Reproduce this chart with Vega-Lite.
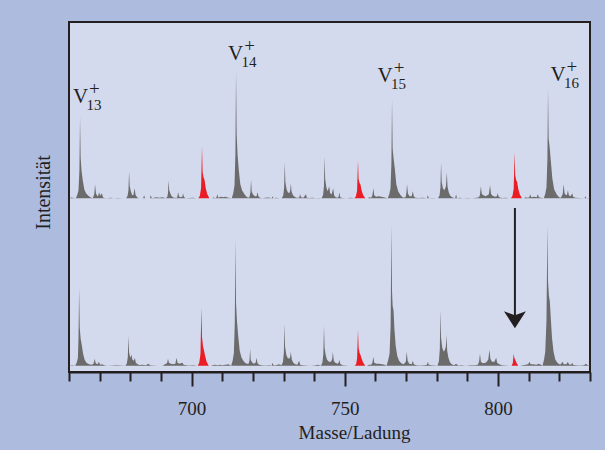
{
"$schema": "https://vega.github.io/schema/vega-lite/v6.json",
"width": 521, "height": 350,
"autosize": {"type": "none"},
"padding": {"left": 69, "top": 22, "right": 15, "bottom": 78},
"background": "#adbbdf",
"config": {"view": {"fill": "#d4daee", "stroke": "#231f20", "strokeWidth": 2}, "font": "Liberation Serif"},
"datasets": {
"ug": [{"m":660,"i":0},{"m":660.8,"i":0.8},{"m":661.5,"i":0.3},{"m":662.2,"i":0},{"m":662.7,"i":3.2},{"m":663.1,"i":8.1},{"m":663.4,"i":28.4},{"m":663.6,"i":81},{"m":663.8,"i":40.5},{"m":664.1,"i":27.5},{"m":664.5,"i":17.8},{"m":665.0,"i":8.9},{"m":665.6,"i":4.9},{"m":666.4,"i":2.4},{"m":667.2,"i":0.5},{"m":667.8,"i":0.3},{"m":668.25,"i":4.2},{"m":668.5,"i":14},{"m":668.8,"i":4.9},{"m":669.3,"i":2},{"m":669.5,"i":2},{"m":669.8,"i":6},{"m":670.2,"i":2.5},{"m":670.7,"i":5},{"m":671.1,"i":1},{"m":671.5,"i":0.3},{"m":672.5,"i":0},{"m":673.5,"i":0.5},{"m":674.5,"i":0},{"m":676,"i":0.4},{"m":677.5,"i":0},{"m":678.6,"i":0},{"m":679.1,"i":2.2},{"m":679.4,"i":8.1},{"m":679.6,"i":27},{"m":679.8,"i":12.2},{"m":680.2,"i":6.8},{"m":680.6,"i":3.2},{"m":681.0,"i":3},{"m":681.4,"i":10},{"m":681.7,"i":3.5},{"m":682.2,"i":1},{"m":682.8,"i":0},{"m":684.2,"i":0},{"m":684.5,"i":3},{"m":684.8,"i":0},{"m":686.4,"i":0},{"m":686.7,"i":3},{"m":687.0,"i":0},{"m":688.5,"i":1},{"m":689.5,"i":0.5},{"m":690.5,"i":1},{"m":691.6,"i":0},{"m":692.1,"i":1.5},{"m":692.3,"i":5.4},{"m":692.5,"i":18},{"m":692.7,"i":8.1},{"m":693.1,"i":4.5},{"m":693.5,"i":2},{"m":694.2,"i":0.5},{"m":695.3,"i":0.5},{"m":695.6,"i":6},{"m":695.9,"i":2},{"m":696.3,"i":1},{"m":697.0,"i":1.5},{"m":697.2,"i":5},{"m":697.5,"i":1.5},{"m":698,"i":0},{"m":699,"i":0.3},{"m":700.5,"i":0.5},{"m":701.5,"i":0},{"m":706.8,"i":0},{"m":707.2,"i":1},{"m":707.6,"i":0},{"m":708.1,"i":0.5},{"m":708.4,"i":4},{"m":708.7,"i":0.5},{"m":709.5,"i":1.5},{"m":710.3,"i":1},{"m":711,"i":1.5},{"m":712,"i":0.5},{"m":713.1,"i":0},{"m":713.6,"i":5.1},{"m":714.0,"i":12.8},{"m":714.3,"i":44.8},{"m":714.5,"i":128},{"m":714.7,"i":64},{"m":715.0,"i":43.5},{"m":715.4,"i":28.2},{"m":715.9,"i":14.1},{"m":716.5,"i":7.7},{"m":717.3,"i":3.8},{"m":718.1,"i":1},{"m":718.8,"i":0.5},{"m":719.2,"i":5.7},{"m":719.4,"i":19},{"m":719.6,"i":7},{"m":720.0,"i":4},{"m":720.6,"i":2},{"m":721.2,"i":2},{"m":721.5,"i":6},{"m":721.8,"i":2},{"m":722.3,"i":0.5},{"m":723.0,"i":0},{"m":724,"i":0.5},{"m":725,"i":0.8},{"m":726.1,"i":0},{"m":726.4,"i":2},{"m":726.7,"i":0},{"m":727.5,"i":0.5},{"m":728.8,"i":0},{"m":729.4,"i":0},{"m":729.9,"i":2.9},{"m":730.2,"i":10.8},{"m":730.4,"i":36},{"m":730.6,"i":16.2},{"m":731.0,"i":9},{"m":731.4,"i":6},{"m":731.9,"i":5},{"m":732.2,"i":8},{"m":732.4,"i":15},{"m":732.6,"i":7},{"m":733.0,"i":3.5},{"m":733.6,"i":1.5},{"m":734.2,"i":0.5},{"m":735.1,"i":0.5},{"m":735.4,"i":4},{"m":735.7,"i":1},{"m":736.5,"i":0.5},{"m":737.3,"i":4},{"m":737.6,"i":0.5},{"m":738.5,"i":0.3},{"m":739.5,"i":0.5},{"m":740.5,"i":0},{"m":741.5,"i":0.3},{"m":742.4,"i":0},{"m":742.9,"i":3.4},{"m":743.2,"i":12.6},{"m":743.4,"i":42},{"m":743.6,"i":18.9},{"m":744.0,"i":10.5},{"m":744.4,"i":7},{"m":744.9,"i":12},{"m":745.2,"i":5},{"m":745.7,"i":4},{"m":746.2,"i":10},{"m":746.5,"i":3},{"m":747.0,"i":1},{"m":747.6,"i":0.5},{"m":748.0,"i":1.5},{"m":748.2,"i":6},{"m":748.5,"i":1},{"m":749.2,"i":0.3},{"m":750.5,"i":0},{"m":752,"i":0.5},{"m":753.0,"i":0},{"m":757.5,"i":0},{"m":758,"i":1},{"m":758.6,"i":0.5},{"m":759.0,"i":3},{"m":759.3,"i":10},{"m":759.6,"i":3},{"m":760.2,"i":1.5},{"m":761,"i":2},{"m":762,"i":1.5},{"m":763,"i":0.8},{"m":764.0,"i":0},{"m":764.5,"i":4},{"m":764.9,"i":9.9},{"m":765.2,"i":34.7},{"m":765.4,"i":99},{"m":765.6,"i":50},{"m":765.9,"i":40},{"m":766.3,"i":30},{"m":766.8,"i":14},{"m":767.4,"i":7},{"m":768.2,"i":3},{"m":769.0,"i":0.5},{"m":769.8,"i":1},{"m":770.05,"i":4.2},{"m":770.3,"i":14},{"m":770.6,"i":4.9},{"m":771.1,"i":2},{"m":771.8,"i":2},{"m":772.2,"i":7},{"m":772.5,"i":2},{"m":773.0,"i":0.5},{"m":774,"i":0.3},{"m":775.5,"i":0.5},{"m":776.8,"i":0},{"m":777.1,"i":3},{"m":777.4,"i":0},{"m":778.5,"i":0.3},{"m":779.8,"i":0},{"m":780.4,"i":0},{"m":780.9,"i":2.9},{"m":781.2,"i":10.8},{"m":781.4,"i":36},{"m":781.6,"i":16.2},{"m":782.0,"i":10},{"m":782.5,"i":8},{"m":783.0,"i":12},{"m":783.3,"i":26},{"m":783.5,"i":12},{"m":783.9,"i":6},{"m":784.4,"i":2.5},{"m":785.0,"i":1},{"m":785.7,"i":0.3},{"m":786.0,"i":0},{"m":786.3,"i":4},{"m":786.6,"i":0},{"m":787.5,"i":0.5},{"m":788.5,"i":0},{"m":790,"i":0.3},{"m":791.5,"i":0},{"m":793,"i":0.5},{"m":793.8,"i":1},{"m":794.1,"i":3.6},{"m":794.4,"i":12},{"m":794.7,"i":4.2},{"m":795.2,"i":3},{"m":796.0,"i":2},{"m":797.0,"i":4},{"m":797.4,"i":13},{"m":797.7,"i":4.5},{"m":798.2,"i":2.5},{"m":799.0,"i":1.5},{"m":799.6,"i":2},{"m":799.9,"i":5},{"m":800.2,"i":1.5},{"m":800.8,"i":0.5},{"m":801.5,"i":0.3},{"m":802.5,"i":0.5},{"m":803.5,"i":0},{"m":808.5,"i":0},{"m":809,"i":1},{"m":809.7,"i":0.5},{"m":810.2,"i":1},{"m":810.5,"i":4},{"m":810.8,"i":1},{"m":811.8,"i":1.5},{"m":812.6,"i":1},{"m":813,"i":4},{"m":813.3,"i":1},{"m":814,"i":0.5},{"m":814.9,"i":0},{"m":815.4,"i":4.4},{"m":815.8,"i":11},{"m":816.1,"i":38.5},{"m":816.3,"i":110},{"m":816.5,"i":60},{"m":816.8,"i":52},{"m":817.2,"i":38},{"m":817.7,"i":20},{"m":818.3,"i":9},{"m":819.1,"i":4},{"m":819.9,"i":1},{"m":820.5,"i":0.5},{"m":821.1,"i":4.2},{"m":821.4,"i":14},{"m":821.7,"i":5},{"m":822.2,"i":3},{"m":822.5,"i":3.5},{"m":822.8,"i":8},{"m":823.1,"i":3},{"m":823.7,"i":2},{"m":824.2,"i":5},{"m":824.5,"i":1.5},{"m":825.2,"i":0.5},{"m":826.5,"i":0.3},{"m":828.2,"i":0},{"m":828.5,"i":2},{"m":828.8,"i":0},{"m":830,"i":0.5}],
"ur": [{"m":702.2,"i":0},{"m":702.7,"i":2.6},{"m":703.1,"i":10.4},{"m":703.4,"i":52},{"m":703.6,"i":26},{"m":703.9,"i":20.8},{"m":704.2,"i":18.7},{"m":704.6,"i":10.4},{"m":705.1,"i":4.2},{"m":705.8,"i":0},{"m":753.1,"i":0},{"m":753.6,"i":1.9},{"m":754.0,"i":7.6},{"m":754.3,"i":38},{"m":754.5,"i":19},{"m":754.8,"i":15.2},{"m":755.1,"i":13.7},{"m":755.5,"i":7.6},{"m":756.0,"i":3},{"m":756.7,"i":0},{"m":804.2,"i":0},{"m":804.7,"i":2.3},{"m":805.1,"i":9.2},{"m":805.4,"i":46},{"m":805.6,"i":23},{"m":805.9,"i":18.4},{"m":806.2,"i":16.6},{"m":806.6,"i":9.2},{"m":807.1,"i":3.7},{"m":807.8,"i":0}],
"lg": [{"m":660,"i":0},{"m":661,"i":0.5},{"m":662.0,"i":0},{"m":662.5,"i":3},{"m":662.9,"i":7.8},{"m":663.1,"i":27},{"m":663.3,"i":78},{"m":663.5,"i":38},{"m":663.8,"i":27},{"m":664.1,"i":22},{"m":664.6,"i":12},{"m":665.1,"i":6},{"m":665.7,"i":3},{"m":666.5,"i":1.5},{"m":667.5,"i":1},{"m":668.0,"i":2},{"m":668.4,"i":7},{"m":668.7,"i":2.5},{"m":669.3,"i":1.5},{"m":669.8,"i":4},{"m":670.1,"i":1},{"m":670.8,"i":1.5},{"m":671.5,"i":0.5},{"m":672.5,"i":0},{"m":674,"i":0.3},{"m":675.5,"i":0.5},{"m":677,"i":0.3},{"m":678.4,"i":0},{"m":678.9,"i":2.4},{"m":679.2,"i":9},{"m":679.4,"i":30},{"m":679.6,"i":13.5},{"m":680.0,"i":8},{"m":680.4,"i":11},{"m":680.7,"i":6},{"m":681.2,"i":5},{"m":681.5,"i":8},{"m":681.8,"i":3},{"m":682.4,"i":1.5},{"m":683.0,"i":0.8},{"m":684.0,"i":1},{"m":685,"i":0.5},{"m":686,"i":2},{"m":686.4,"i":0.5},{"m":687.5,"i":0.3},{"m":689,"i":0},{"m":690.5,"i":0},{"m":691.3,"i":1.5},{"m":692.0,"i":2.5},{"m":692.3,"i":7},{"m":692.6,"i":3},{"m":693.2,"i":2},{"m":694.0,"i":1.5},{"m":694.7,"i":2},{"m":695.1,"i":8},{"m":695.4,"i":3},{"m":696.0,"i":2},{"m":697.0,"i":3},{"m":697.4,"i":1},{"m":698.2,"i":0.5},{"m":699.2,"i":0.3},{"m":700.5,"i":0.5},{"m":701.8,"i":0},{"m":706.2,"i":0},{"m":706.8,"i":0.5},{"m":707.6,"i":1},{"m":708.4,"i":0.5},{"m":709.2,"i":1},{"m":710,"i":0.5},{"m":711,"i":1},{"m":712,"i":1.5},{"m":712.9,"i":0},{"m":713.4,"i":5},{"m":713.8,"i":12.6},{"m":714.1,"i":44},{"m":714.3,"i":126},{"m":714.5,"i":63},{"m":714.8,"i":45},{"m":715.2,"i":30},{"m":715.7,"i":15},{"m":716.3,"i":8},{"m":717.1,"i":4},{"m":717.9,"i":2},{"m":718.6,"i":2},{"m":718.9,"i":5},{"m":719.1,"i":17},{"m":719.3,"i":6},{"m":719.7,"i":3.5},{"m":720.3,"i":2},{"m":720.9,"i":3},{"m":721.2,"i":8},{"m":721.5,"i":2.5},{"m":722.1,"i":1},{"m":722.8,"i":0.5},{"m":724,"i":0.3},{"m":725.5,"i":0.5},{"m":726.1,"i":0},{"m":726.4,"i":3},{"m":726.7,"i":0.5},{"m":727.5,"i":0.5},{"m":728.5,"i":1.5},{"m":729.3,"i":0.5},{"m":729.8,"i":3.4},{"m":730.1,"i":12.6},{"m":730.3,"i":42},{"m":730.5,"i":19},{"m":730.9,"i":11},{"m":731.3,"i":8},{"m":731.9,"i":7},{"m":732.2,"i":9},{"m":732.4,"i":14},{"m":732.7,"i":6},{"m":733.2,"i":3},{"m":733.8,"i":1.5},{"m":734.5,"i":1},{"m":735.1,"i":5},{"m":735.4,"i":1},{"m":736.2,"i":0.5},{"m":737.5,"i":0.3},{"m":738.5,"i":0},{"m":740,"i":0.3},{"m":741.3,"i":1},{"m":742.2,"i":0},{"m":742.7,"i":3.2},{"m":743.0,"i":12},{"m":743.2,"i":40},{"m":743.4,"i":18},{"m":743.8,"i":10},{"m":744.2,"i":6},{"m":744.8,"i":4},{"m":745.5,"i":4},{"m":745.9,"i":7},{"m":746.1,"i":14},{"m":746.4,"i":5},{"m":746.9,"i":3},{"m":747.6,"i":2},{"m":748.0,"i":3},{"m":748.2,"i":6},{"m":748.5,"i":2},{"m":749.2,"i":0.5},{"m":750.2,"i":0.3},{"m":751.5,"i":0},{"m":752.8,"i":0},{"m":757.2,"i":0},{"m":757.9,"i":1},{"m":758.6,"i":1},{"m":759.0,"i":3},{"m":759.3,"i":9},{"m":759.6,"i":3},{"m":760.3,"i":2},{"m":761.2,"i":2},{"m":762.2,"i":1.5},{"m":763.0,"i":1},{"m":763.6,"i":0},{"m":764.1,"i":5},{"m":764.6,"i":12},{"m":764.95,"i":40},{"m":765.2,"i":141},{"m":765.4,"i":75},{"m":765.6,"i":60},{"m":765.9,"i":55},{"m":766.2,"i":36},{"m":766.6,"i":20},{"m":767.1,"i":10},{"m":767.7,"i":5},{"m":768.4,"i":2.5},{"m":769.2,"i":1.5},{"m":769.9,"i":4},{"m":770.2,"i":14},{"m":770.5,"i":5},{"m":771.0,"i":2},{"m":771.8,"i":1.5},{"m":772.2,"i":5},{"m":772.5,"i":1.5},{"m":773.3,"i":0.5},{"m":774.5,"i":0.3},{"m":776,"i":0.5},{"m":776.8,"i":1},{"m":777.1,"i":4},{"m":777.4,"i":1},{"m":778.3,"i":0.5},{"m":779.5,"i":0.3},{"m":780.2,"i":0},{"m":780.7,"i":4.5},{"m":781.0,"i":17},{"m":781.2,"i":56},{"m":781.4,"i":28},{"m":781.8,"i":18},{"m":782.3,"i":14},{"m":782.8,"i":17},{"m":783.0,"i":20},{"m":783.2,"i":31},{"m":783.4,"i":15},{"m":783.8,"i":8},{"m":784.3,"i":3.5},{"m":784.9,"i":1.5},{"m":785.6,"i":0.5},{"m":786.3,"i":2},{"m":787,"i":0.3},{"m":788,"i":0.5},{"m":789.5,"i":0},{"m":791,"i":0.5},{"m":792.5,"i":0.5},{"m":793.4,"i":1},{"m":793.8,"i":4},{"m":794.1,"i":12},{"m":794.4,"i":4},{"m":795,"i":2.5},{"m":796.0,"i":3},{"m":796.8,"i":6},{"m":797.2,"i":16},{"m":797.5,"i":7},{"m":798.0,"i":4},{"m":798.8,"i":4},{"m":799.4,"i":8},{"m":799.7,"i":3},{"m":800.4,"i":1.5},{"m":801.3,"i":0.5},{"m":802.5,"i":0.3},{"m":803.8,"i":0},{"m":807.2,"i":0},{"m":808,"i":0.5},{"m":809,"i":1},{"m":809.8,"i":1.5},{"m":810.3,"i":4},{"m":810.6,"i":1.5},{"m":811.5,"i":1.5},{"m":812.5,"i":1},{"m":813.3,"i":2},{"m":814.0,"i":1},{"m":814.5,"i":0},{"m":815.0,"i":6},{"m":815.4,"i":14},{"m":815.8,"i":45},{"m":816.1,"i":140},{"m":816.3,"i":85},{"m":816.6,"i":70},{"m":816.9,"i":64},{"m":817.2,"i":48},{"m":817.6,"i":28},{"m":818.1,"i":14},{"m":818.7,"i":6},{"m":819.5,"i":2.5},{"m":820.3,"i":1},{"m":821.1,"i":4},{"m":821.4,"i":1.5},{"m":822.3,"i":1.5},{"m":822.8,"i":4},{"m":823.1,"i":1.5},{"m":823.8,"i":1},{"m":824.2,"i":3},{"m":824.5,"i":1},{"m":825.3,"i":0.5},{"m":826.5,"i":0.3},{"m":828,"i":0.5},{"m":828.7,"i":2},{"m":829.2,"i":0.5},{"m":830,"i":0.5}],
"lr": [{"m":702.0,"i":0},{"m":702.5,"i":2.9},{"m":702.9,"i":11.6},{"m":703.2,"i":58},{"m":703.4,"i":29},{"m":703.7,"i":20},{"m":704.0,"i":16},{"m":704.4,"i":10},{"m":704.9,"i":4},{"m":705.6,"i":0},{"m":753.2,"i":0},{"m":753.7,"i":1.8},{"m":754.0,"i":7.2},{"m":754.3,"i":36},{"m":754.5,"i":18},{"m":754.8,"i":13},{"m":755.1,"i":11},{"m":755.5,"i":7},{"m":756.0,"i":3},{"m":756.7,"i":0},{"m":804.4,"i":0},{"m":804.8,"i":2.5},{"m":805.1,"i":12},{"m":805.3,"i":8},{"m":805.6,"i":6},{"m":806.0,"i":3},{"m":806.6,"i":0}],
"labels": [{"t":"13","m":661.3,"i":95.6},{"t":"14","m":711.9,"i":138.3},{"t":"15","m":760.7,"i":116.6},{"t":"16","m":817.1,"i":117.6}],
"arrow": [{"m":805.5,"i":157.7,"i2":50,"h":46}]
},
"resolve": {"scale": {"y": "independent"}},
"encoding": {
  "x": {"field": "m", "type": "quantitative",
    "scale": {"domain": [660, 830], "nice": false, "zero": false},
    "axis": {"values": [660,670,680,690,700,710,720,730,740,750,760,770,780,790,800,810,820,830],
      "title": "Masse/Ladung", "titleFont": "Liberation Serif", "titleFontSize": 19, "titleFontWeight": "normal", "titleColor": "#231f20",
      "titleX": 285, "titleY": 66, "titleBaseline": "alphabetic",
      "labelExpr": "datum.value % 50 === 0 ? datum.label : ''",
      "labelFont": "Liberation Serif", "labelFontSize": 19, "labelColor": "#231f20", "labelBaseline": "alphabetic", "labelPadding": 28,
      "labelFlush": false, "labelOverlap": false,
      "tickSize": {"condition": {"test": "datum.value % 50 === 0", "value": 14}, "value": 9},
      "tickWidth": 2, "tickColor": "#231f20", "domainColor": "#231f20", "domainWidth": 2, "grid": false}
  }
},
"layer": [
  {
    "encoding": {"y": {"field": "i", "type": "quantitative",
      "scale": {"domain": [-173.7, 176.3], "nice": false, "zero": false},
      "axis": {"title": "Intensität", "labels": false, "ticks": false, "domain": false, "grid": false,
        "titleFont": "Liberation Serif", "titleFontSize": 20, "titleFontWeight": "normal", "titleColor": "#231f20",
        "titleX": -26, "titleY": 170, "titleAngle": -90, "titleBaseline": "middle", "titleAlign": "center"}}},
    "layer": [
      {"data": {"name": "ug"}, "mark": {"type": "area", "color": "#6b6b6b", "interpolate": "linear"}},
      {"data": {"name": "ur"}, "mark": {"type": "area", "color": "#ea1d25", "interpolate": "linear"}},
      {"data": {"name": "labels"}, "mark": {"type": "text", "text": "V", "align": "left", "baseline": "alphabetic", "fontSize": 21, "font": "Liberation Serif", "color": "#231f20"}},
      {"data": {"name": "labels"}, "mark": {"type": "text", "align": "left", "baseline": "alphabetic", "fontSize": 15, "font": "Liberation Serif", "color": "#231f20", "dx": 13.5, "dy": 7}, "encoding": {"text": {"field": "t"}}},
      {"data": {"name": "labels"}, "mark": {"type": "text", "text": "+", "align": "center", "baseline": "middle", "fontSize": 19, "font": "Liberation Serif", "color": "#231f20", "dx": 21.5, "dy": -14}}
    ]
  },
  {
    "encoding": {"y": {"field": "i", "type": "quantitative",
      "scale": {"domain": [-6.3, 343.7], "nice": false, "zero": false}, "axis": null}},
    "layer": [
      {"data": {"name": "lg"}, "mark": {"type": "area", "color": "#6b6b6b", "interpolate": "linear"}},
      {"data": {"name": "lr"}, "mark": {"type": "area", "color": "#ea1d25", "interpolate": "linear"}},
      {"data": {"name": "arrow"}, "mark": {"type": "rule", "color": "#231f20", "strokeWidth": 2}, "encoding": {"y2": {"field": "i2"}}},
      {"data": {"name": "arrow"}, "mark": {"type": "point", "filled": true, "opacity": 1, "color": "#231f20", "size": 484, "strokeWidth": 0, "shape": "M-1,-0.77L0,0.77L1,-0.77L0,-0.41Z"}, "encoding": {"y": {"field": "h", "type": "quantitative"}}}
    ]
  }
]
}
